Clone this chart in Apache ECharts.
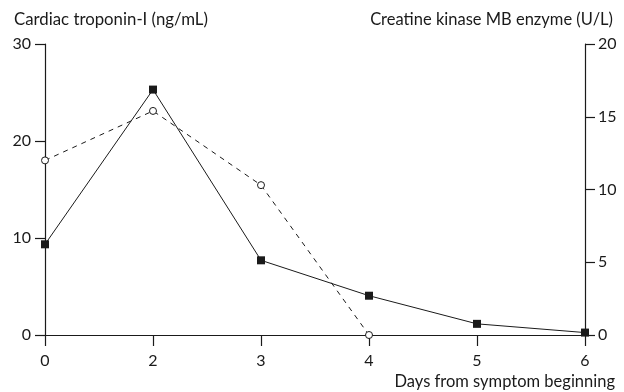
<!DOCTYPE html>
<html>
<head>
<meta charset="utf-8">
<script src="https://cdn.jsdelivr.net/npm/echarts@6/dist/echarts.min.js"></script>
<style>
  html, body { margin: 0; padding: 0; background: #fff; }
  #chart { width: 624px; height: 392px; }
</style>
</head>
<body>
<div id="chart"></div>
<script>
// days shown on the x axis (evenly spaced categories)
const days = ['0', '2', '3', '4', '5', '6']
// filled squares, solid line - left axis
const troponin = [9.35, 25.3, 7.7, 4.05, 1.15, 0.25]
// open circles, dashed line - right axis
const ckmb = [12.0, 15.4, 10.3, 0, null, null]

const leftTitle = 'Cardiac troponin-I (ng/mL)'
const rightTitle = 'Creatine kinase MB enzyme (U/L)'
const xTitle = 'Days from symptom beginning'

const ink = '#1a1a1a'
const font = 'Lato'

const chart = echarts.init(document.getElementById('chart'))

const axisCommon = {
  axisLine: { show: true, lineStyle: { color: ink, width: 1.2 } },
  axisTick: { show: true, length: 10, lineStyle: { color: ink, width: 1.2 } },
  splitLine: { show: false },
  axisLabel: { color: ink, fontFamily: font, fontSize: 16 }
}

const option = {
  animation: false,
  grid: { left: 45, right: 39, top: 44, bottom: 57, containLabel: false },
  xAxis: {
    type: 'category',
    data: days,
    boundaryGap: false,
    ...axisCommon,
    axisTick: { show: true, length: 11, alignWithLabel: true, lineStyle: { color: ink, width: 1.2 } },
    axisLabel: { color: ink, fontFamily: font, fontSize: 16, margin: 18 }
  },
  yAxis: [
    {
      type: 'value', min: 0, max: 30, interval: 10, position: 'left',
      ...axisCommon,
      axisLabel: { color: ink, fontFamily: font, fontSize: 16, margin: 14 }
    },
    {
      type: 'value', min: 0, max: 20, interval: 5, position: 'right',
      ...axisCommon,
      axisLabel: { color: ink, fontFamily: font, fontSize: 16, margin: 13 }
    }
  ],
  series: [
    {
      type: 'line',
      data: troponin,
      yAxisIndex: 0,
      symbol: 'rect',
      symbolSize: 8,
      lineStyle: { color: ink, width: 1 },
      itemStyle: { color: ink }
    },
    {
      type: 'line',
      data: ckmb,
      yAxisIndex: 1,
      symbol: 'circle',
      symbolSize: 7,
      showAllSymbol: true,
      lineStyle: { color: ink, width: 1, type: [5, 5] },
      itemStyle: { color: '#fff', borderColor: ink, borderWidth: 1 }
    }
  ],
  graphic: [
    {
      type: 'text', left: 14, top: 11,
      style: { text: leftTitle, fill: ink, font: '16.8px ' + font }
    },
    {
      type: 'text', right: 11, top: 11,
      style: { text: rightTitle, fill: ink, font: '16.5px ' + font }
    },
    {
      type: 'text', right: 9, top: 373,
      style: { text: xTitle, fill: ink, font: '16.5px ' + font }
    }
  ]
}

chart.setOption(option)
</script>
</body>
</html>
